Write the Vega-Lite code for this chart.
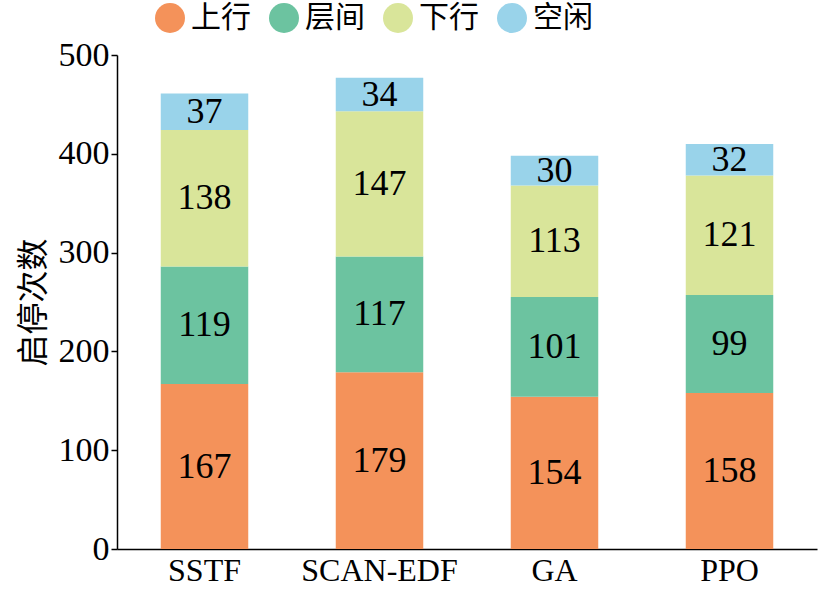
{
"$schema":"https://vega.github.io/schema/vega-lite/v6.json",
"width":700,"height":494,
"autosize":"none",
"padding":{"left":117,"top":55,"right":5,"bottom":57},
"background":"white",
"config":{"view":{"stroke":null}},
"data":{"values":[
{"alg":"SSTF","type":"上行","o":1,"v":167},{"alg":"SSTF","type":"层间","o":2,"v":119},{"alg":"SSTF","type":"下行","o":3,"v":138},{"alg":"SSTF","type":"空闲","o":4,"v":37},
{"alg":"SCAN-EDF","type":"上行","o":1,"v":179},{"alg":"SCAN-EDF","type":"层间","o":2,"v":117},{"alg":"SCAN-EDF","type":"下行","o":3,"v":147},{"alg":"SCAN-EDF","type":"空闲","o":4,"v":34},
{"alg":"GA","type":"上行","o":1,"v":154},{"alg":"GA","type":"层间","o":2,"v":101},{"alg":"GA","type":"下行","o":3,"v":113},{"alg":"GA","type":"空闲","o":4,"v":30},
{"alg":"PPO","type":"上行","o":1,"v":158},{"alg":"PPO","type":"层间","o":2,"v":99},{"alg":"PPO","type":"下行","o":3,"v":121},{"alg":"PPO","type":"空闲","o":4,"v":32}
]},
"transform":[
{"stack":"v","groupby":["alg"],"sort":[{"field":"o"}],"as":["y0","y1"]},
{"calculate":"(datum.y0+datum.y1)/2","as":"mid"}
],
"encoding":{
"x":{"field":"alg","type":"nominal","sort":["SSTF","SCAN-EDF","GA","PPO"],
"scale":{"paddingInner":0.5,"paddingOuter":0.25},
"axis":{"title":null,"labelAngle":0,"labelFont":"Liberation Serif","labelFontSize":32,"labelColor":"black","ticks":false,"domainColor":"black","domainWidth":1.5,"labelPadding":6}}
},
"layer":[
{"mark":{"type":"bar"},
"encoding":{
"y":{"field":"y0","type":"quantitative","scale":{"domain":[0,500]},
"axis":{"title":"启停次数","titleFont":"Noto Sans CJK SC","titleFontSize":32,"titleFontWeight":"normal","titleColor":"black","titlePadding":8,
"values":[0,100,200,300,400,500],"grid":false,"labelFont":"Liberation Serif","labelFontSize":34,"labelColor":"black","domainColor":"black","domainWidth":1.5,"tickColor":"black","tickSize":6,"tickWidth":1.5}},
"y2":{"field":"y1"},
"color":{"field":"type","type":"nominal","sort":["上行","层间","下行","空闲"],
"scale":{"domain":["上行","层间","下行","空闲"],"range":["#F4925A","#6CC3A0","#D9E59A","#99D3EA"]},
"legend":{"title":null,"orient":"none","direction":"horizontal","legendX":38,"legendY":-52,"symbolType":"circle","symbolSize":900,"labelFont":"Noto Sans CJK SC","labelFontSize":30,"labelColor":"black","columnPadding":18,"labelOffset":6,"symbolStrokeWidth":0,"symbolOpacity":1}}
}},
{"mark":{"type":"text","font":"Liberation Serif","fontSize":36,"color":"black"},
"encoding":{"y":{"field":"mid","type":"quantitative"},"text":{"field":"v"}}}
]
}
